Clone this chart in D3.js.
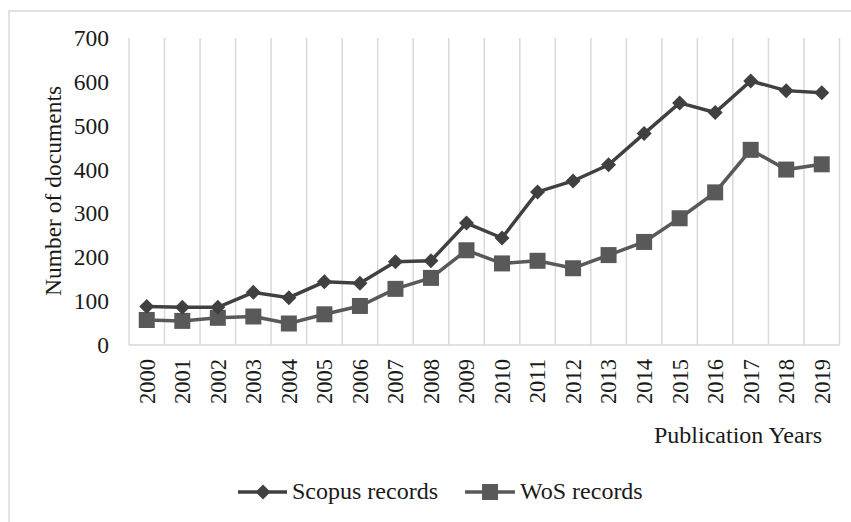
<!DOCTYPE html>
<html>
<head>
<meta charset="utf-8">
<script src="https://cdn.jsdelivr.net/npm/d3@7"></script>
<style>
  body { margin: 0; background: #fff; }
  svg text { font-family: 'Liberation Serif', Tinos, 'DejaVu Serif', serif; fill: #1a1a1a; }
</style>
</head>
<body>
<div id="chart"></div>
<script>
var years = ["2000", "2001", "2002", "2003", "2004", "2005", "2006", "2007", "2008", "2009",
  "2010", "2011", "2012", "2013", "2014", "2015", "2016", "2017", "2018", "2019"];
var scopus = [88, 86, 86, 120, 108, 144, 141, 190, 192, 278, 244, 349, 374, 411, 482, 552, 530, 602, 580, 575];
var wos = [57, 55, 62, 65, 49, 70, 89, 128, 153, 216, 186, 192, 175, 205, 235, 289, 348, 445, 400, 412];
var yTicks = [0, 100, 200, 300, 400, 500, 600, 700];

var svgWidth = 851;
var svgHeight = 522;
var serif = "'Liberation Serif', Tinos, 'DejaVu Serif', serif";
var bigFont = "24px";     // horizontal texts
var yearFont = "22.5px";  // rotated year labels

var svg = d3.select("#chart")
  .append("svg")
  .attr("width", svgWidth)
  .attr("height", svgHeight)
  .style("font-family", serif);

// chart frame (right and bottom edges run off the picture)
svg.append("rect")
  .attr("x", 9)
  .attr("y", 11)
  .attr("width", 860)
  .attr("height", 530)
  .attr("fill", "none")
  .attr("stroke", "#d9d9d9")
  .attr("stroke-width", 1.5);

var xScale = d3.scaleBand()
  .domain(years)
  .range([129, 839.5]);

var yScale = d3.scaleLinear()
  .domain([0, 700])
  .range([345, 38]);

// vertical gridlines at category boundaries
var bounds = years.map(d => xScale(d)).concat([xScale.range()[1]]);
svg.append("g")
  .selectAll("line")
  .data(bounds)
  .enter()
  .append("line")
  .attr("x1", d => d)
  .attr("x2", d => d)
  .attr("y1", yScale(700))
  .attr("y2", yScale(0))
  .attr("stroke", "#d9d9d9")
  .attr("stroke-width", 1.5);

// bottom axis line
svg.append("line")
  .attr("x1", xScale.range()[0])
  .attr("x2", xScale.range()[1])
  .attr("y1", yScale(0))
  .attr("y2", yScale(0))
  .attr("stroke", "#d9d9d9")
  .attr("stroke-width", 1.5);

// y axis
var leftAxis = d3.axisLeft(yScale)
  .tickValues(yTicks)
  .tickSize(0)
  .tickPadding(20);

var yAxis = svg.append("g")
  .attr("transform", `translate(${xScale.range()[0]}, 0)`)
  .call(leftAxis)
  .attr("font-family", null)
  .attr("font-size", null);
yAxis.select(".domain").remove();
yAxis.selectAll("text")
  .style("font-family", serif)
  .style("font-size", "23.5px")
  .attr("fill", "#1a1a1a");

// x axis, labels rotated
var bottomAxis = d3.axisBottom(xScale).tickSize(0);
var xAxis = svg.append("g")
  .attr("transform", `translate(0, ${yScale(0)})`)
  .call(bottomAxis)
  .attr("font-family", null)
  .attr("font-size", null);
xAxis.select(".domain").remove();
xAxis.selectAll("text")
  .style("font-family", serif)
  .style("font-size", yearFont)
  .attr("fill", "#1a1a1a")
  .attr("y", 0)
  .attr("dy", "0.35em")
  .attr("text-anchor", "end")
  .attr("transform", "translate(0, 14) rotate(-90)");

// axis titles
svg.append("text")
  .attr("transform", "translate(61, 191) rotate(-90)")
  .attr("text-anchor", "middle")
  .style("font-size", "23.5px")
  .text("Number of documents");

svg.append("text")
  .attr("x", 822)
  .attr("y", 443)
  .attr("text-anchor", "end")
  .style("font-size", bigFont)
  .text("Publication Years");

var cx = (d, i) => xScale(years[i]) + xScale.bandwidth() / 2;

var line = d3.line()
  .x(cx)
  .y(d => yScale(d));

var diamond = "M0,-7.5L7.5,0L0,7.5L-7.5,0Z";

// WoS series
svg.append("path")
  .datum(wos)
  .attr("d", line)
  .attr("fill", "none")
  .attr("stroke", "#595959")
  .attr("stroke-width", 3.5);

svg.append("g")
  .selectAll("rect")
  .data(wos)
  .enter()
  .append("rect")
  .attr("x", (d, i) => cx(d, i) - 8)
  .attr("y", d => yScale(d) - 8)
  .attr("width", 16)
  .attr("height", 16)
  .attr("fill", "#595959");

// Scopus series
svg.append("path")
  .datum(scopus)
  .attr("d", line)
  .attr("fill", "none")
  .attr("stroke", "#404040")
  .attr("stroke-width", 3.5);

svg.append("g")
  .selectAll("path")
  .data(scopus)
  .enter()
  .append("path")
  .attr("d", diamond)
  .attr("transform", (d, i) => `translate(${cx(d, i)}, ${yScale(d)})`)
  .attr("fill", "#404040");

// legend
var legend = svg.append("g");

legend.append("line")
  .attr("x1", 238).attr("x2", 287)
  .attr("y1", 492).attr("y2", 492)
  .attr("stroke", "#404040")
  .attr("stroke-width", 3.5);
legend.append("path")
  .attr("d", diamond)
  .attr("transform", "translate(263, 492)")
  .attr("fill", "#404040");
legend.append("text")
  .attr("x", 292)
  .attr("y", 499)
  .style("font-size", bigFont)
  .text("Scopus records");

legend.append("line")
  .attr("x1", 465).attr("x2", 515)
  .attr("y1", 492).attr("y2", 492)
  .attr("stroke", "#595959")
  .attr("stroke-width", 3.5);
legend.append("rect")
  .attr("x", 482).attr("y", 484)
  .attr("width", 16).attr("height", 16)
  .attr("fill", "#595959");
legend.append("text")
  .attr("x", 520)
  .attr("y", 499)
  .style("font-size", bigFont)
  .text("WoS records");
</script>
</body>
</html>
